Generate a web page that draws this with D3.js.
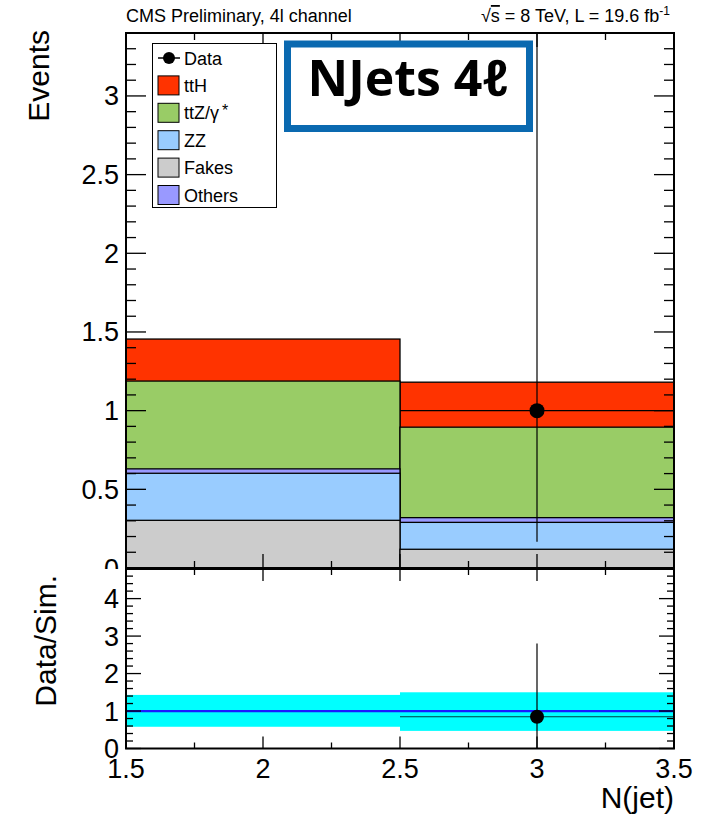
<!DOCTYPE html>
<html>
<head>
<meta charset="utf-8">
<script src="https://cdn.jsdelivr.net/npm/d3@7"></script>
<style>
  html, body { margin: 0; padding: 0; background: #fff; }
  svg { display: block; font-family: "Liberation Sans", Arial, Helvetica, sans-serif; }
</style>
</head>
<body>
<svg id="chart" width="713" height="816"></svg>
<script>
// ---- data: N(jet) bins and stacked expectations ----
const binEdges = [1.5, 2.5, 3.5];
const binCenters = [2, 3];
const processes = ["Fakes", "ZZ", "Others", "ttZ", "ttH"]; // bottom -> top
const fakes  = [0.303, 0.119];
const zz     = [0.299, 0.171];
const others = [0.028, 0.030];
const ttz    = [0.558, 0.575];
const tth    = [0.267, 0.286];

// observed data (only the 3-jet bin has an entry)
const dataX      = [3];
const dataY      = [1];
const dataErrLo  = [0.833];
const dataErrHi  = [2.40];

// ratio panel
const ratioX     = [3];
const ratioY     = [0.847];
const ratioErrLo = [0.847];
const ratioErrHi = [1.953];
const bandLo     = [0.58, 0.47];
const bandHi     = [1.43, 1.50];

// axis ticks and labels
const xTicks       = [1.5, 2, 2.5, 3, 3.5];
const xTickLabels  = ["1.5", "2", "2.5", "3", "3.5"];
const yTicks       = [0, 0.5, 1, 1.5, 2, 2.5, 3];
const yTickLabels  = ["0", "0.5", "1", "1.5", "2", "2.5", "3"];
const rTicks       = [0, 1, 2, 3, 4];
const rTickLabels  = ["0", "1", "2", "3", "4"];

const legendNames = ["Data", "ttH", "ttZ/γ*", "ZZ", "Fakes", "Others"];

const colors = {
  ttH: "#ff3300", ttZ: "#99cc66", ZZ: "#99ccff", Fakes: "#cccccc", Others: "#9999ff"
};

// ---- layout ----
const L = 126, R = 674;
const mainTop = 33, mainBot = 568;
const ratTop = 569, ratBot = 748.5;

const x = d3.scaleLinear().domain([1.5, 3.5]).range([L, R]);
const y = d3.scaleLinear().domain([0, 3.4]).range([mainBot, mainTop]);
const yr = d3.scaleLinear().domain([0, 4.79]).range([ratBot, ratTop]);

const svg = d3.select("#chart");

svg.append("defs").append("clipPath").attr("id", "mainClip")
  .append("rect").attr("x", 0).attr("y", 0).attr("width", 713).attr("height", mainBot + 1);
svg.select("defs").append("clipPath").attr("id", "mainPlot")
  .append("rect").attr("x", L).attr("y", mainTop).attr("width", R - L).attr("height", mainBot - mainTop);

// ---- stacked histogram ----
const layers = [
  { key: "Fakes",  vals: fakes },
  { key: "ZZ",     vals: zz },
  { key: "Others", vals: others },
  { key: "ttZ",    vals: ttz },
  { key: "ttH",    vals: tth }
];
const cum = [];
let run = binCenters.map(() => 0);
layers.forEach(l => {
  run = run.map((v, i) => v + l.vals[i]);
  cum.push({ key: l.key, tops: run.slice() });
});

const stackG = svg.append("g");
cum.slice().reverse().forEach(layer => {
  stackG.selectAll(null)
    .data(layer.tops)
    .enter().append("rect")
    .attr("x", (d, i) => x(binEdges[i]))
    .attr("width", (d, i) => x(binEdges[i + 1]) - x(binEdges[i]))
    .attr("y", d => y(d))
    .attr("height", d => y(0) - y(d))
    .attr("fill", colors[layer.key])
    .attr("stroke", "#000")
    .attr("stroke-width", 1.3);
});

// ---- data points (main) ----
const dataG = svg.append("g").attr("clip-path", "url(#mainPlot)");
dataX.forEach((xv, i) => {
  const bi = binCenters.indexOf(xv);
  dataG.append("line")
    .attr("x1", x(binEdges[bi])).attr("x2", x(binEdges[bi + 1]))
    .attr("y1", y(dataY[i])).attr("y2", y(dataY[i]))
    .attr("stroke", "#000").attr("stroke-width", 1.2);
  dataG.append("line")
    .attr("x1", x(xv)).attr("x2", x(xv))
    .attr("y1", y(dataY[i] - dataErrLo[i])).attr("y2", y(dataY[i] + dataErrHi[i]))
    .attr("stroke", "#000").attr("stroke-width", 1.2);
  dataG.append("circle")
    .attr("cx", x(xv)).attr("cy", y(dataY[i])).attr("r", 7.5).attr("fill", "#000");
});

// ---- ratio panel ----
const ratG = svg.append("g");
binCenters.forEach((c, i) => {
  ratG.append("rect")
    .attr("x", x(binEdges[i])).attr("width", x(binEdges[i + 1]) - x(binEdges[i]))
    .attr("y", yr(bandHi[i])).attr("height", yr(bandLo[i]) - yr(bandHi[i]))
    .attr("fill", "#00ffff");
});
ratG.append("line")
  .attr("x1", L).attr("x2", R).attr("y1", yr(1)).attr("y2", yr(1))
  .attr("stroke", "#1a1aff").attr("stroke-width", 2.2);
ratioX.forEach((xv, i) => {
  const bi = binCenters.indexOf(xv);
  ratG.append("line")
    .attr("x1", x(binEdges[bi])).attr("x2", x(binEdges[bi + 1]))
    .attr("y1", yr(ratioY[i])).attr("y2", yr(ratioY[i]))
    .attr("stroke", "#000").attr("stroke-width", 1.2).attr("stroke-opacity", 0.75);
  ratG.append("line")
    .attr("x1", x(xv)).attr("x2", x(xv))
    .attr("y1", yr(ratioY[i] - ratioErrLo[i])).attr("y2", yr(ratioY[i] + ratioErrHi[i]))
    .attr("stroke", "#000").attr("stroke-width", 1.2);
  ratG.append("circle")
    .attr("cx", x(xv)).attr("cy", yr(ratioY[i])).attr("r", 7).attr("fill", "#000");
});

// ---- frames and ticks ----
function frame(top, bot) {
  svg.append("rect").attr("x", L).attr("y", top).attr("width", R - L).attr("height", bot - top)
    .attr("fill", "none").attr("stroke", "#000").attr("stroke-width", 2);
}
function ticksY(scale, maxV, step, majors, majLen, minLen) {
  const g = svg.append("g").attr("stroke", "#000").attr("stroke-width", 1.3);
  const n = Math.floor(maxV / step + 1e-6);
  d3.range(0, n + 1).map(k => +(k * step).toFixed(4)).forEach(v => {
    const isMaj = majors.some(m => Math.abs(m - v) < 1e-6);
    const len = isMaj ? majLen : minLen;
    const yy = scale(v);
    g.append("line").attr("x1", L).attr("x2", L + len).attr("y1", yy).attr("y2", yy);
    g.append("line").attr("x1", R).attr("x2", R - len).attr("y1", yy).attr("y2", yy);
  });
}
function ticksX(top, bot, majLen, minLen) {
  const g = svg.append("g").attr("stroke", "#000").attr("stroke-width", 1.3);
  d3.range(0, 9).map(k => 1.5 + k * 0.25).forEach(v => {
    const isMaj = xTicks.some(m => Math.abs(m - v) < 1e-6);
    const len = isMaj ? majLen : minLen;
    g.append("line").attr("x1", x(v)).attr("x2", x(v)).attr("y1", bot).attr("y2", bot - len);
    g.append("line").attr("x1", x(v)).attr("x2", x(v)).attr("y1", top).attr("y2", top + len);
  });
}

ticksY(y, 3.4, 0.1, yTicks, 20, 10);
ticksX(mainTop, mainBot, 14, 7);
frame(mainTop, mainBot);

ticksY(yr, 4.79, 0.2, rTicks, 15, 7);
ticksX(ratTop, ratBot, 12, 6);
frame(ratTop, ratBot);

// ---- tick labels ----
const tickFont = 27;
svg.append("g").attr("clip-path", "url(#mainClip)")
  .selectAll("text").data(yTicks).enter().append("text")
  .attr("x", 119).attr("y", d => y(d) + 9.5)
  .attr("text-anchor", "end").attr("font-size", tickFont)
  .text((d, i) => yTickLabels[i]);

svg.append("g").selectAll("text").data(rTicks).enter().append("text")
  .attr("x", 119).attr("y", d => yr(d) + 9.5)
  .attr("text-anchor", "end").attr("font-size", tickFont)
  .text((d, i) => rTickLabels[i]);

svg.append("g").selectAll("text").data(xTicks).enter().append("text")
  .attr("x", d => x(d)).attr("y", 778)
  .attr("text-anchor", "middle").attr("font-size", tickFont)
  .text((d, i) => xTickLabels[i]);

// ---- axis titles ----
svg.append("text").attr("transform", "translate(49,30) rotate(-90)")
  .attr("text-anchor", "end").attr("font-size", 30).text("Events");
svg.append("text").attr("transform", "translate(56,575) rotate(-90)")
  .attr("text-anchor", "end").attr("font-size", 30).text("Data/Sim.");
svg.append("text").attr("x", R).attr("y", 808)
  .attr("text-anchor", "end").attr("font-size", 30).text("N(jet)");

// ---- header ----
svg.append("text").attr("x", L).attr("y", 22).attr("font-size", 18)
  .text("CMS Preliminary, 4l channel");
const hdr = svg.append("text").attr("x", 670).attr("y", 22)
  .attr("text-anchor", "end").attr("font-size", 18);
hdr.append("tspan").text("√");
hdr.append("tspan").style("text-decoration", "overline").text("s");
hdr.append("tspan").text(" = 8 TeV, L = 19.6 fb");
hdr.append("tspan").attr("font-size", 12).attr("dy", -7).text("-1");

// ---- legend ----
const lg = svg.append("g");
lg.append("rect").attr("x", 152.5).attr("y", 43.5).attr("width", 124).attr("height", 164)
  .attr("fill", "#fff").attr("stroke", "#000").attr("stroke-width", 1);
const legendKeys = ["Data", "ttH", "ttZ", "ZZ", "Fakes", "Others"];
const legY = d3.scalePoint().domain(legendKeys).range([58, 195]);
legendKeys.forEach((k, i) => {
  const cy = legY(k);
  if (k === "Data") {
    lg.append("line").attr("x1", 158).attr("x2", 180).attr("y1", cy).attr("y2", cy)
      .attr("stroke", "#000").attr("stroke-width", 1.5);
    lg.append("circle").attr("cx", 169).attr("cy", cy).attr("r", 6).attr("fill", "#000");
  } else {
    lg.append("rect").attr("x", 158).attr("y", cy - 9.5).attr("width", 21).attr("height", 19)
      .attr("fill", colors[k]).attr("stroke", "#000").attr("stroke-width", 1);
  }
  const t = lg.append("text").attr("x", 184).attr("y", cy + 6.5).attr("font-size", 18);
  if (k === "ttZ") {
    t.append("tspan").text("ttZ/γ");
    t.append("tspan").attr("font-size", 16).attr("dy", -3).attr("dx", 3).text("*");
  } else {
    t.text(legendNames[i]);
  }
});

// ---- title box ----
svg.append("rect").attr("x", 287.5).attr("y", 44).attr("width", 242).attr("height", 84.5)
  .attr("fill", "#fff").attr("stroke", "#0a69b0").attr("stroke-width", 7);
svg.append("text").attr("x", 408).attr("y", 96)
  .attr("text-anchor", "middle").attr("font-size", 50).attr("font-weight", "bold")
  .style("font-family", "'Open Sans', 'Noto Sans', sans-serif")
  .text("NJets 4ℓ");
</script>
</body>
</html>
